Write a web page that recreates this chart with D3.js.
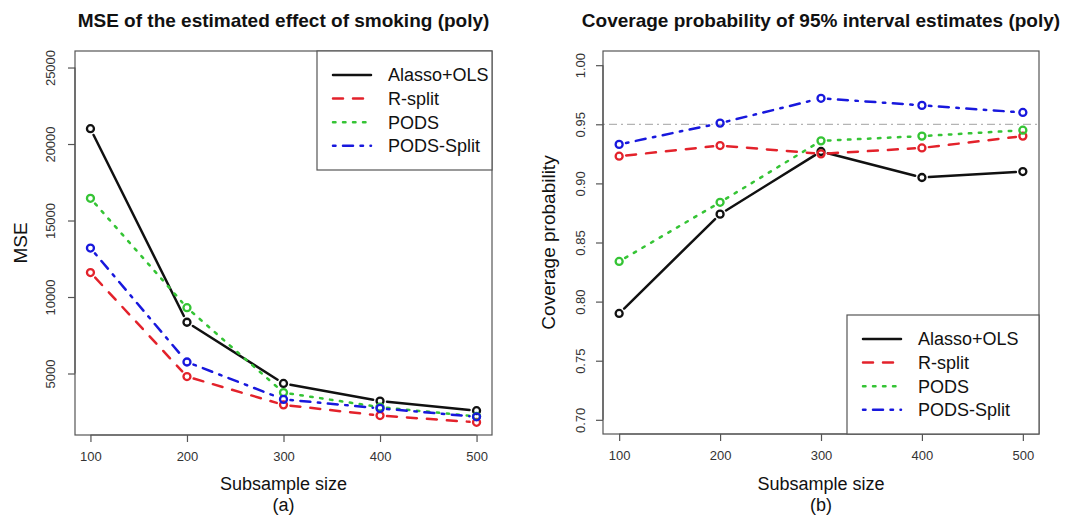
<!DOCTYPE html>
<html lang="en">
<head>
<meta charset="UTF-8">
<title>MSE and coverage (poly)</title>
<script src="https://d3js.org/d3.v7.min.js"></script>
<style>
  body { margin: 0; background: #fff; }
  svg text { font-family: "Liberation Sans", Arial, sans-serif; }
  .tick-label { font-size: 13px; fill: #333; }
  .axis-title { font-size: 19px; fill: #111; }
  .x-title { font-size: 18px; fill: #111; }
  .plot-title { font-size: 19px; font-weight: bold; fill: #111; }
  .legend-text { font-size: 18px; fill: #111; }
</style>
</head>
<body>
<div id="chart"></div>
<script>
// data
const sizes = [100, 200, 300, 400, 500];
const methods = ["Alasso+OLS", "R-split", "PODS", "PODS-Split"];

const mseAlasso = [21000, 8350, 4350, 3200, 2570];
const mseRsplit = [11600, 4800, 2950, 2250, 1810];
const msePods = [16450, 9300, 3750, 2800, 2200];
const msePodsSplit = [13200, 5750, 3310, 2720, 2170];

const covAlasso = [0.790, 0.874, 0.927, 0.905, 0.910];
const covRsplit = [0.923, 0.932, 0.925, 0.930, 0.940];
const covPods = [0.834, 0.884, 0.936, 0.940, 0.945];
const covPodsSplit = [0.933, 0.951, 0.972, 0.966, 0.960];

const mseTicks = [5000, 10000, 15000, 20000, 25000];
const covTicks = [0.70, 0.75, 0.80, 0.85, 0.90, 0.95, 1.00];
const nominal = 0.95;

// line styles (R lty 1..4 at lwd 2.5)
const colors = ["#111111", "#e3222b", "#35c435", "#1818dd"];
const dashes = [null, "10 10", "2.5 7.5", "2.5 7.5 10 7.5"];
const lwd = 2.5;

const W = 1076, H = 517;
const svg = d3.select("#chart").append("svg")
  .attr("width", W).attr("height", H);

function drawPanel(p) {
  const x = d3.scaleLinear().domain([84, 516]).range([p.left, p.right]);
  const y = d3.scaleLinear().domain(p.yDomain).range([p.bottom, p.top]);
  const g = svg.append("g");

  // reference line
  if (p.hline != null) {
    g.append("line")
      .attr("x1", p.left).attr("x2", p.right)
      .attr("y1", y(p.hline)).attr("y2", y(p.hline))
      .attr("stroke", "#b4b4b4").attr("stroke-width", 1.2)
      .attr("stroke-dasharray", "2 4 8 4");
  }

  // series: type="b" (segments with gaps around points)
  const gap = 7;
  p.series.forEach((vals, k) => {
    const pts = vals.map((v, i) => [x(sizes[i]), y(v)]);
    for (let i = 0; i < pts.length - 1; i++) {
      const [x0, y0] = pts[i], [x1, y1] = pts[i + 1];
      const len = Math.hypot(x1 - x0, y1 - y0);
      if (len <= 2 * gap) continue;
      const ux = (x1 - x0) / len, uy = (y1 - y0) / len;
      g.append("line")
        .attr("x1", x0 + ux * gap).attr("y1", y0 + uy * gap)
        .attr("x2", x1 - ux * gap).attr("y2", y1 - uy * gap)
        .attr("stroke", colors[k]).attr("stroke-width", lwd)
        .attr("stroke-linecap", "round")
        .attr("stroke-dasharray", dashes[k]);
    }
    g.selectAll(null).data(pts).enter().append("circle")
      .attr("cx", d => d[0]).attr("cy", d => d[1]).attr("r", 3.5)
      .attr("fill", "none").attr("stroke", colors[k]).attr("stroke-width", 2.3);
  });

  // box
  g.append("rect")
    .attr("x", p.left).attr("y", p.top)
    .attr("width", p.right - p.left).attr("height", p.bottom - p.top)
    .attr("fill", "none").attr("stroke", "#555").attr("stroke-width", 1.2);

  // x axis
  const xa = g.append("g").attr("transform", `translate(0,${p.bottom})`)
    .call(d3.axisBottom(x).tickValues(sizes).tickSize(7).tickPadding(10).tickSizeOuter(0));
  xa.select(".domain").attr("d", `M${x(100)},0H${x(500)}`).attr("stroke", "#555").attr("stroke-width", 1.2);
  xa.selectAll(".tick line").attr("stroke", "#555").attr("stroke-width", 1.2);
  xa.selectAll(".tick text").attr("class", "tick-label").attr("font-size", null).attr("fill", null);

  // y axis
  const ya = g.append("g").attr("transform", `translate(${p.left},0)`)
    .call(d3.axisLeft(y).tickValues(p.yTicks).tickFormat(p.yFormat).tickSize(7).tickSizeOuter(0));
  ya.select(".domain")
    .attr("d", `M0,${y(p.yTicks[0])}V${y(p.yTicks[p.yTicks.length - 1])}`)
    .attr("stroke", "#555").attr("stroke-width", 1.2);
  ya.selectAll(".tick line").attr("stroke", "#555").attr("stroke-width", 1.2);
  ya.selectAll(".tick text")
    .attr("class", "tick-label").attr("font-size", null).attr("fill", null)
    .attr("x", null).attr("dy", null)
    .attr("text-anchor", "middle")
    .attr("transform", `translate(${-p.yLabelOffset},0) rotate(-90)`);

  const cx = (p.left + p.right) / 2;
  svg.append("text").attr("class", "plot-title")
    .attr("x", cx).attr("y", 27).attr("text-anchor", "middle").text(p.title);
  svg.append("text").attr("class", "x-title")
    .attr("x", cx).attr("y", 489.5).attr("text-anchor", "middle").text("Subsample size");
  svg.append("text").attr("class", "x-title")
    .attr("x", cx).attr("y", 510.5).attr("text-anchor", "middle").text(p.tag);
  svg.append("text").attr("class", "axis-title")
    .attr("transform", `translate(${p.yTitleX},${(p.top + p.bottom) / 2}) rotate(-90)`)
    .attr("text-anchor", "middle").text(p.yTitle);

  // legend
  const lg = svg.append("g").attr("transform", `translate(${p.legend[0]},${p.legend[1]})`);
  lg.append("rect").attr("width", p.legend[2]).attr("height", 119)
    .attr("fill", "#fff").attr("stroke", "#555").attr("stroke-width", 1.2);
  methods.forEach((m, k) => {
    const ry = 24 + k * 23.6;
    lg.append("line").attr("x1", 16).attr("x2", 54).attr("y1", ry).attr("y2", ry)
      .attr("stroke", colors[k]).attr("stroke-width", lwd)
      .attr("stroke-linecap", "round").attr("stroke-dasharray", dashes[k]);
    lg.append("text").attr("class", "legend-text")
      .attr("x", 71).attr("y", ry).attr("dy", "0.36em").text(m);
  });
}

drawPanel({
  left: 75, right: 492, top: 51, bottom: 435,
  yDomain: [980, 26080], yTicks: mseTicks, yFormat: d3.format("d"),
  yLabelOffset: 20,
  series: [mseAlasso, mseRsplit, msePods, msePodsSplit],
  title: "MSE of the estimated effect of smoking (poly)",
  yTitle: "MSE", yTitleX: 27, tag: "(a)",
  legend: [317, 51, 175]
});

drawPanel({
  left: 603, right: 1039, top: 51, bottom: 434,
  yDomain: [0.688, 1.012], yTicks: covTicks, yFormat: d3.format(".2f"),
  yLabelOffset: 18,
  hline: nominal,
  series: [covAlasso, covRsplit, covPods, covPodsSplit],
  title: "Coverage probability of 95% interval estimates (poly)",
  yTitle: "Coverage probability", yTitleX: 555, tag: "(b)",
  legend: [847, 315, 192]
});
</script>
</body>
</html>
